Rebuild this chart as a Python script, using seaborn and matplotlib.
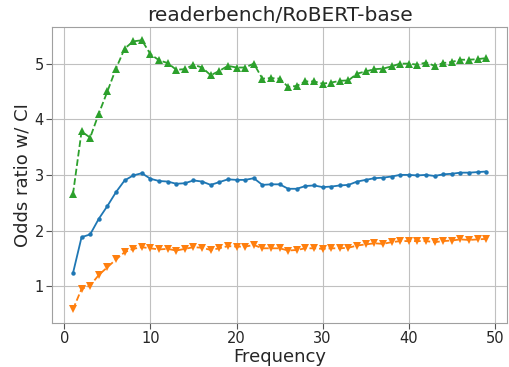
import matplotlib
matplotlib.use("Agg")
import matplotlib.pyplot as plt
import seaborn as sns
import pandas as pd

# frequency bins 1..49
freq = list(range(1, 50))

blue = [1.23, 1.88, 1.93, 2.21, 2.44, 2.69, 2.90, 2.99, 3.03, 2.93,
        2.89, 2.88, 2.84, 2.85, 2.90, 2.88, 2.82, 2.87, 2.92, 2.91,
        2.91, 2.94, 2.82, 2.83, 2.83, 2.75, 2.75, 2.80, 2.81, 2.78,
        2.79, 2.81, 2.82, 2.88, 2.91, 2.94, 2.95, 2.97, 3.00, 3.00,
        2.99, 3.00, 2.98, 3.01, 3.02, 3.04, 3.04, 3.05, 3.06]
orange = [0.58, 0.95, 1.01, 1.20, 1.34, 1.48, 1.61, 1.67, 1.70, 1.68,
          1.66, 1.67, 1.64, 1.67, 1.70, 1.69, 1.65, 1.68, 1.72, 1.71,
          1.71, 1.74, 1.68, 1.68, 1.68, 1.64, 1.65, 1.68, 1.68, 1.67,
          1.68, 1.68, 1.69, 1.73, 1.75, 1.77, 1.76, 1.79, 1.81, 1.81,
          1.81, 1.81, 1.79, 1.81, 1.82, 1.84, 1.83, 1.84, 1.85]
green = [2.65, 3.78, 3.67, 4.10, 4.50, 4.91, 5.27, 5.40, 5.42, 5.17,
         5.06, 5.01, 4.89, 4.90, 4.98, 4.93, 4.79, 4.87, 4.96, 4.93,
         4.93, 5.00, 4.73, 4.74, 4.73, 4.58, 4.60, 4.68, 4.68, 4.64,
         4.66, 4.69, 4.70, 4.82, 4.86, 4.90, 4.91, 4.95, 5.00, 5.00,
         4.98, 5.02, 4.96, 5.01, 5.03, 5.07, 5.07, 5.08, 5.10]

sns.set_style("whitegrid", {"xtick.bottom": True, "ytick.left": True,
                            "axes.edgecolor": "#a0a0a0", "grid.color": "#c0c0c0"})
plt.rcParams["font.family"] = ["DejaVu Sans"]

fig, ax = plt.subplots(figsize=(5.1, 3.67), dpi=100)
df = pd.DataFrame({"freq": freq, "blue": blue, "orange": orange, "green": green})

sns.lineplot(x="freq", y="blue", data=df, ax=ax, color="tab:blue",
             marker="o", markersize=3.2, markeredgewidth=0, linewidth=1.3)
sns.lineplot(x="freq", y="orange", data=df, ax=ax, color="tab:orange",
             marker="v", markersize=6, markeredgewidth=0, linewidth=1.3, linestyle="--")
sns.lineplot(x="freq", y="green", data=df, ax=ax, color="tab:green",
             marker="^", markersize=6, markeredgewidth=0, linewidth=1.3, linestyle="--")

ax.set_title("readerbench/RoBERT-base", fontsize=14.5, pad=4)
ax.set_xlabel("Frequency", fontsize=13, labelpad=1)
ax.set_ylabel("Odds ratio w/ CI", fontsize=13, labelpad=2)
ax.tick_params(labelsize=10.5, color="#555555", length=4, pad=2)
ax.set_xticks([0, 10, 20, 30, 40, 50])
ax.set_yticks([1, 2, 3, 4, 5])

fig.subplots_adjust(left=0.1025, right=0.994, top=0.927, bottom=0.12)
fig.savefig("out.png", dpi=100)
